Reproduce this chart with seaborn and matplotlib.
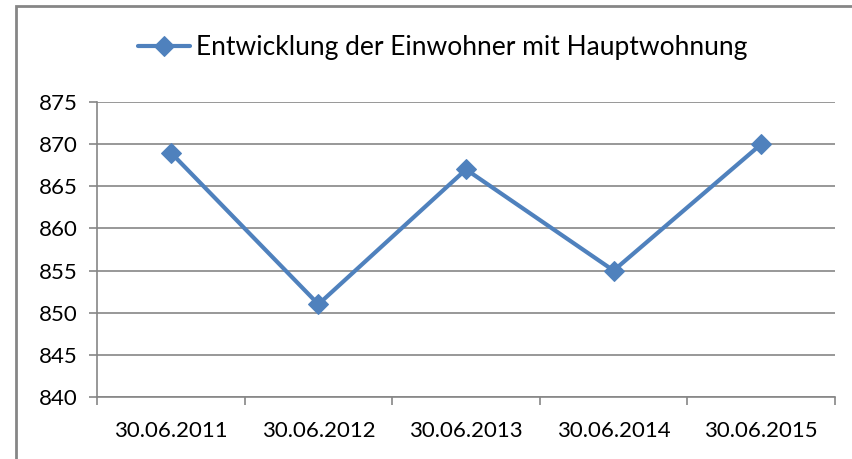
import numpy as np
import pandas as pd
import matplotlib.pyplot as plt
import seaborn as sns
from matplotlib.patches import Rectangle

# Data
dates = ["30.06.2011", "30.06.2012", "30.06.2013", "30.06.2014", "30.06.2015"]
einwohner = [869, 851, 867, 855, 870]
series_name = "Entwicklung der Einwohner mit Hauptwohnung"

df = pd.DataFrame({"Stichtag": dates, "Einwohner": einwohner})

sns.set_style("white")
plt.rcParams["font.family"] = ["Lato", "DejaVu Sans"]
plt.rcParams["text.color"] = "black"
plt.rcParams["xtick.labelcolor"] = "black"
plt.rcParams["ytick.labelcolor"] = "black"

fig = plt.figure(figsize=(8.53, 4.59), dpi=100, facecolor="white")
ax = fig.add_axes([97 / 853, 1 - 397 / 459, (835 - 97) / 853, (397 - 102) / 459])

blue = "#4F81BD"
grid_col = "#868686"

sns.lineplot(data=df, x="Stichtag", y="Einwohner", marker="D", markersize=10,
             color=blue, linewidth=3, markeredgecolor=blue, label=series_name,
             sort=False, ax=ax, zorder=3)

ax.set_ylim(840, 875)
ax.set_yticks(np.arange(840, 876, 5))
ax.set_xlim(-0.5, len(dates) - 0.5)
ax.set_xlabel("")
ax.set_ylabel("")

# horizontal gridlines, Excel style
ax.grid(axis="y", color=grid_col, linewidth=1.2)
ax.grid(axis="x", visible=False)
for s in ["top", "right"]:
    ax.spines[s].set_visible(False)
for s in ["left", "bottom"]:
    ax.spines[s].set_color(grid_col)
    ax.spines[s].set_linewidth(1.2)

# y ticks outside, x ticks at category boundaries
ax.tick_params(axis="y", left=True, length=6, width=1.2, color=grid_col,
               labelsize=16, pad=8)
ax.set_xticks(np.arange(len(dates)))
ax.set_xticklabels(dates)
ax.tick_params(axis="x", bottom=False, labelsize=16, pad=14)
ax.set_xticks(np.arange(-0.5, len(dates), 1.0), minor=True)
ax.tick_params(axis="x", which="minor", bottom=True, length=6, width=1.2,
               color=grid_col)

leg = ax.legend(loc="center", bbox_to_anchor=(0.468, 1 + (102 - 48) / 295), frameon=False,
                fontsize=19, handlelength=2.0, handletextpad=0.2, borderaxespad=0)

# outer chart frame
fig.patches.append(Rectangle((16 / 853, -0.05), 1.0, 1 - 6 / 459 + 0.05,
                             transform=fig.transFigure, fill=False,
                             edgecolor=grid_col, linewidth=2))

plt.savefig("out.png", dpi=100)
